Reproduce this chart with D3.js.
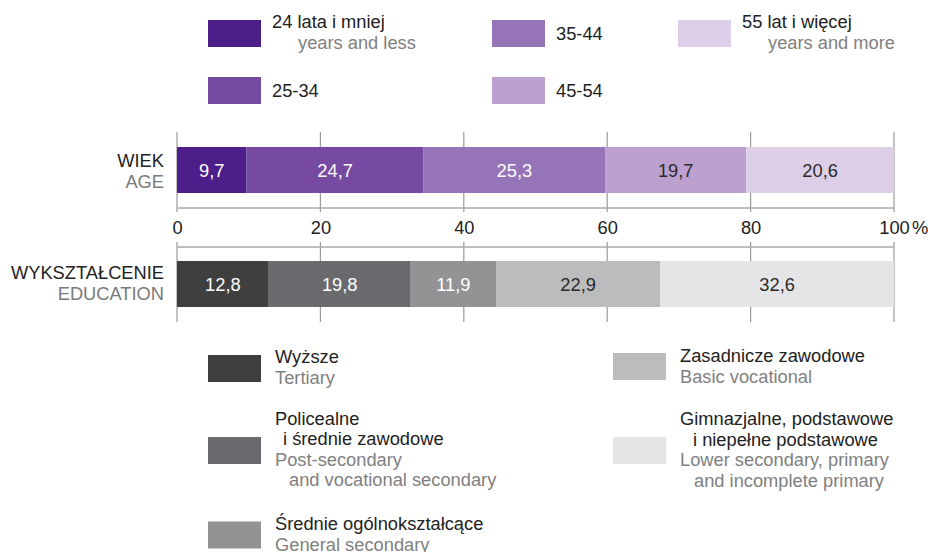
<!DOCTYPE html>
<html>
<head>
<meta charset="utf-8">
<script src="https://cdn.jsdelivr.net/npm/d3@7"></script>
<style>
  html, body { margin: 0; padding: 0; background: #fff; }
  svg { display: block; font-family: "Liberation Sans", Arial, sans-serif; }
</style>
</head>
<body>
<svg id="chart" width="928" height="552"></svg>
<script>
// ---- data ----
const ageValues = [9.7, 24.7, 25.3, 19.7, 20.6];
const ageLabelsPL = ["24 lata i mniej", "25-34", "35-44", "45-54", "55 lat i więcej"];
const ageLabelsEN = ["years and less", "", "", "", "years and more"];
const ageColors = ["#4d1e8a", "#764aa0", "#9574b8", "#bba0d0", "#ddcfe8"];
const ageTextColors = ["#fff", "#fff", "#fff", "#2a2a2a", "#2a2a2a"];

const eduValues = [12.8, 19.8, 11.9, 22.9, 32.6];
const eduLabelsPL = [["Wyższe"], ["Policealne", "i średnie zawodowe"], ["Średnie ogólnokształcące"], ["Zasadnicze zawodowe"], ["Gimnazjalne, podstawowe", "i niepełne podstawowe"]];
const eduLabelsEN = [["Tertiary"], ["Post-secondary", "and vocational secondary"], ["General secondary"], ["Basic vocational"], ["Lower secondary, primary", "and incomplete primary"]];
const eduColors = ["#3f3f40", "#6a6a6e", "#939396", "#bcbcbf", "#e5e5e7"];
const eduTextColors = ["#fff", "#fff", "#fff", "#2a2a2a", "#2a2a2a"];

const tickValues = [0, 20, 40, 60, 80, 100];

// ---- layout ----
const svg = d3.select("#chart");
const x = d3.scaleLinear().domain([0, 100]).range([177, 894]);
const gridColor = "#9a9a9a";
const fs = 18.3;

function stack(vals) {
  let acc = 0;
  return vals.map(v => { const s = acc; acc += v; return { start: s, end: acc, v }; });
}

function panel(vals, colors, textColors, barY, barH, gridTop, gridBot, hLineY, title1, title2, titleY) {
  const g = svg.append("g");
  g.selectAll("line.v").data(tickValues).join("line")
    .attr("x1", d => x(d)).attr("x2", d => x(d))
    .attr("y1", gridTop).attr("y2", gridBot)
    .attr("stroke", gridColor).attr("stroke-width", 1.2);
  g.append("line").attr("x1", x(0)).attr("x2", x(100))
    .attr("y1", hLineY).attr("y2", hLineY)
    .attr("stroke", "#aaaaaa").attr("stroke-width", 1.5);
  const st = stack(vals);
  g.selectAll("rect.seg").data(st).join("rect")
    .attr("x", d => x(d.start)).attr("width", d => x(d.end) - x(d.start))
    .attr("y", barY).attr("height", barH)
    .attr("fill", (d, i) => colors[i]);
  g.selectAll("text.val").data(st).join("text")
    .attr("x", d => (x(d.start) + x(d.end)) / 2)
    .attr("y", barY + barH / 2 + 6.5)
    .attr("text-anchor", "middle")
    .attr("font-size", fs)
    .attr("fill", (d, i) => textColors[i])
    .text(d => d.v.toFixed(1).replace(".", ","));
  g.append("text").attr("x", 164).attr("y", titleY).attr("text-anchor", "end")
    .attr("font-size", fs).attr("fill", "#222").text(title1);
  g.append("text").attr("x", 164).attr("y", titleY + 21).attr("text-anchor", "end")
    .attr("font-size", fs).attr("fill", "#7a7a7a").text(title2);
}

panel(ageValues, ageColors, ageTextColors, 147, 46, 132, 212, 208, "WIEK", "AGE", 166.5);
panel(eduValues, eduColors, eduTextColors, 261, 46, 242, 322, 247, "WYKSZTAŁCENIE", "EDUCATION", 279);

// tick labels via axis
const axisG = svg.append("g").attr("transform", "translate(0,216)")
  .call(d3.axisBottom(x).tickValues(tickValues).tickSize(0).tickPadding(0).tickFormat(d3.format("d")));
axisG.select(".domain").remove();
axisG.selectAll("text").attr("font-size", fs).attr("fill", "#222")
  .attr("font-family", "Liberation Sans, Arial, sans-serif").attr("dy", "0").attr("y", 17.5);
svg.append("text").attr("x", x(100) + 18).attr("y", 233.5).attr("font-size", fs).attr("fill", "#222").text("%");

// ---- top legend ----
const ageLegendPos = [
  { sx: 208, sy: 20 }, { sx: 208, sy: 77 }, { sx: 492, sy: 20 }, { sx: 492, sy: 77 }, { sx: 678, sy: 20 }
];
const lg = svg.append("g");
ageLabelsPL.forEach((lab, i) => {
  const p = ageLegendPos[i];
  lg.append("rect").attr("x", p.sx).attr("y", p.sy).attr("width", 53).attr("height", 27).attr("fill", ageColors[i]);
  if (ageLabelsEN[i]) {
    lg.append("text").attr("x", p.sx + 64).attr("y", 28).attr("font-size", fs).attr("fill", "#222").text(lab);
    lg.append("text").attr("x", p.sx + 90).attr("y", 48.5).attr("font-size", fs).attr("fill", "#808080").text(ageLabelsEN[i]);
  } else {
    lg.append("text").attr("x", p.sx + 64).attr("y", p.sy + 20).attr("font-size", fs).attr("fill", "#222").text(lab);
  }
});

// ---- bottom legend ----
const eduLegendPos = [
  { sx: 208, sy: 355, ty: 363, indPL: 8, indEN: 14 },
  { sx: 208, sy: 437, ty: 424.5, indPL: 8, indEN: 14 },
  { sx: 208, sy: 521.5, ty: 530, indPL: 8, indEN: 14 },
  { sx: 613, sy: 353, ty: 362, indPL: 13, indEN: 14 },
  { sx: 613, sy: 437, ty: 425, indPL: 13, indEN: 14 }
];
const lh = 20.5;
const el = svg.append("g");
eduLabelsPL.forEach((lines, i) => {
  const p = eduLegendPos[i];
  el.append("rect").attr("x", p.sx).attr("y", p.sy).attr("width", 53).attr("height", 27).attr("fill", eduColors[i]);
  const tx = p.sx + 67;
  let k = 0;
  lines.forEach((t, j) => {
    el.append("text").attr("x", tx + (j > 0 ? p.indPL : 0)).attr("y", p.ty + lh * k)
      .attr("font-size", fs).attr("fill", "#222").text(t);
    k++;
  });
  eduLabelsEN[i].forEach((t, j) => {
    el.append("text").attr("x", tx + (j > 0 ? p.indEN : 0)).attr("y", p.ty + lh * k)
      .attr("font-size", fs).attr("fill", "#808080").text(t);
    k++;
  });
});
</script>
</body>
</html>
